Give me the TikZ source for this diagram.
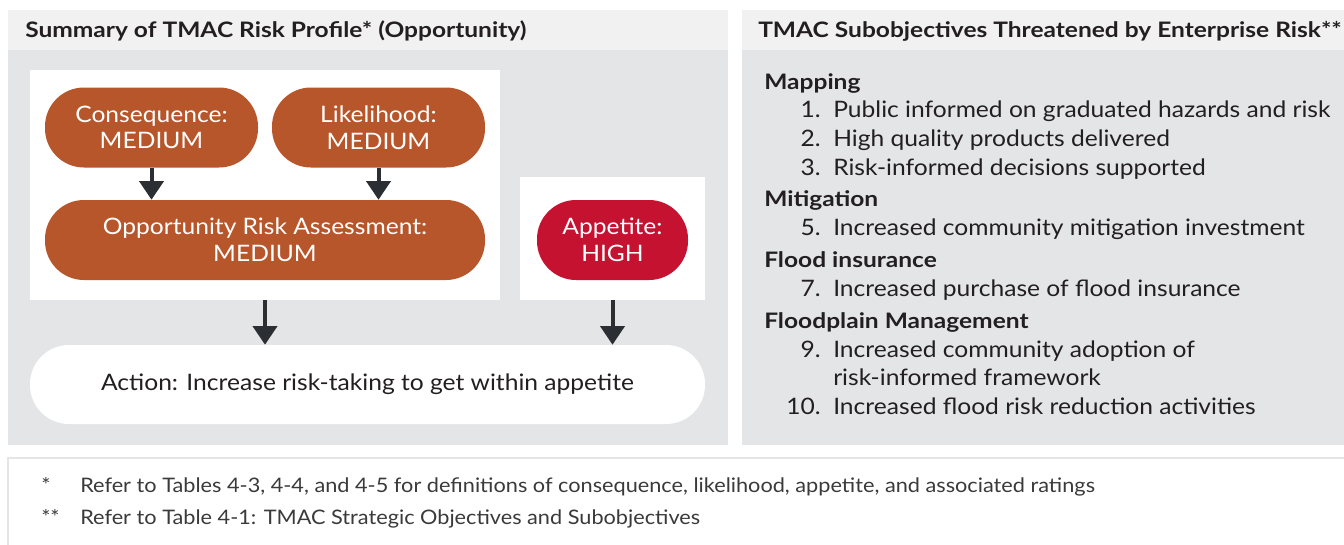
\documentclass[tikz,border=0pt]{standalone}
\usepackage{fontspec}
\setmainfont{Lato}
\newfontfamily\bodyf[FakeStretch=1.085]{Lato}
\newfontfamily\widef[FakeStretch=1.15]{Lato}
\usetikzlibrary{arrows.meta,calc}
\definecolor{hdr}{HTML}{F1F1F1}
\definecolor{panel}{HTML}{E4E5E7}
\definecolor{rust}{HTML}{B7562A}
\definecolor{crimson}{HTML}{C41230}
\definecolor{arrowc}{HTML}{2B2F33}
\definecolor{ink}{HTML}{231F20}
\definecolor{foot}{HTML}{3A3A3A}
\def\pxu{0.75pt}
\tikzset{
  pill/.style={shape=rectangle, rounded corners=39*\pxu, minimum height=80*\pxu, inner sep=0pt, align=center, text=white, font=\bodyf\fontsize{17}{20}\selectfont},
  rustpill/.style={pill, fill=rust},
  redpill/.style={pill, fill=crimson},
  whitebox/.style={shape=rectangle, fill=white, inner sep=0pt, draw=none},
  flow/.style={draw=arrowc, line width=3pt, -{Triangle[width=18pt,length=14pt]}},
  hdrtext/.style={font=\widef\bfseries\fontsize{16}{18}\selectfont, text=ink, anchor=west, inner sep=0pt},
  grp/.style={font=\widef\bfseries\fontsize{16}{19}\selectfont, text=ink, anchor=base west, inner sep=0pt},
  num/.style={font=\bodyf\fontsize{17}{19}\selectfont, text=ink, anchor=base east, inner sep=0pt},
  item/.style={font=\bodyf\fontsize{17}{19}\selectfont, text=ink, anchor=base west, inner sep=0pt},
  foottext/.style={font=\bodyf\fontsize{15}{17}\selectfont, text=foot, anchor=base west, inner sep=0pt}
}
\begin{document}
\begin{tikzpicture}[x=0.75pt,y=-0.75pt]
\useasboundingbox (0,0) rectangle (1344,544);
\fill[white] (0,0) rectangle (1344,544);
% left panel
\fill[panel] (8,10) rectangle (728,445);
\fill[hdr] (8,10) rectangle (728,50);
\node[hdrtext] (lhdr) at (25,31) {Summary of TMAC Risk Profile* (Opportunity)};
% right panel
\fill[panel] (742,10) rectangle (1344,445);
\fill[hdr] (742,10) rectangle (1344,50);
\node[hdrtext] (rhdr) at (758,31) {TMAC Subobjectives Threatened by Enterprise Risk**};
% white boxes
\node[whitebox, minimum width=470*\pxu, minimum height=230*\pxu] (box1) at (265,185) {};
\node[whitebox, minimum width=185*\pxu, minimum height=123*\pxu] (box2) at (612.5,238.5) {};
% pills
\node[rustpill, minimum width=213*\pxu] (cons) at (151.5,127.5) {Consequence:\\MEDIUM};
\node[rustpill, minimum width=213*\pxu] (like) at (378.5,127.5) {Likelihood:\\MEDIUM};
\node[rustpill, minimum width=440*\pxu] (opp) at (265,240) {Opportunity Risk Assessment:\\MEDIUM};
\node[redpill, minimum width=151*\pxu] (app) at (612.5,240) {Appetite:\\HIGH};
\node[pill, fill=white, text=ink, minimum width=675*\pxu, minimum height=79*\pxu] (act) at (367.5,384.5) {Action: Increase risk-taking to get within appetite};
% arrows
\draw[flow] (cons.south) -- (cons.south |- opp.north);
\draw[flow] (like.south) -- (like.south |- opp.north);
\draw[flow] (box1.south) -- (box1.south |- act.north);
\draw[flow] (box2.south) -- (box2.south |- act.north);
% right list
\node[grp] (g1) at (764,89) {Mapping};
\node[num] (n1) at (821,117) {1.}; \node[item] (i1) at (833,117) {Public informed on graduated hazards and risk};
\node[num] (n2) at (821,146) {2.}; \node[item] (i2) at (833,146) {High quality products delivered};
\node[num] (n3) at (821,175) {3.}; \node[item] (i3) at (833,175) {Risk-informed decisions supported};
\node[grp] (g2) at (764,206) {Mitigation};
\node[num] (n5) at (821,235) {5.}; \node[item] (i5) at (833,235) {Increased community mitigation investment};
\node[grp] (g3) at (764,267) {Flood insurance};
\node[num] (n7) at (821,296) {7.}; \node[item] (i7) at (833,296) {Increased purchase of flood insurance};
\node[grp] (g4) at (764,328) {Floodplain Management};
\node[num] (n9) at (821,357) {9.}; \node[item] (i9) at (833,357) {Increased community adoption of};
\node[item] (i9b) at (833,385) {risk-informed framework};
\node[num] (n10) at (821,414) {10.}; \node[item] (i10) at (833,414) {Increased flood risk reduction activities};
% footer
\draw[draw=panel, line width=1.5pt, fill=white] (8,458) rectangle (1350,560);
\node[foottext] (s1) at (41,492) {*};
\node[foottext] (f1) at (80,492) {Refer to Tables 4-3, 4-4, and 4-5 for definitions of consequence, likelihood, appetite, and associated ratings};
\node[foottext] (s2) at (41,524) {**};
\node[foottext] (f2) at (80,524) {Refer to Table 4-1: TMAC Strategic Objectives and Subobjectives};
\end{tikzpicture}
\end{document}
